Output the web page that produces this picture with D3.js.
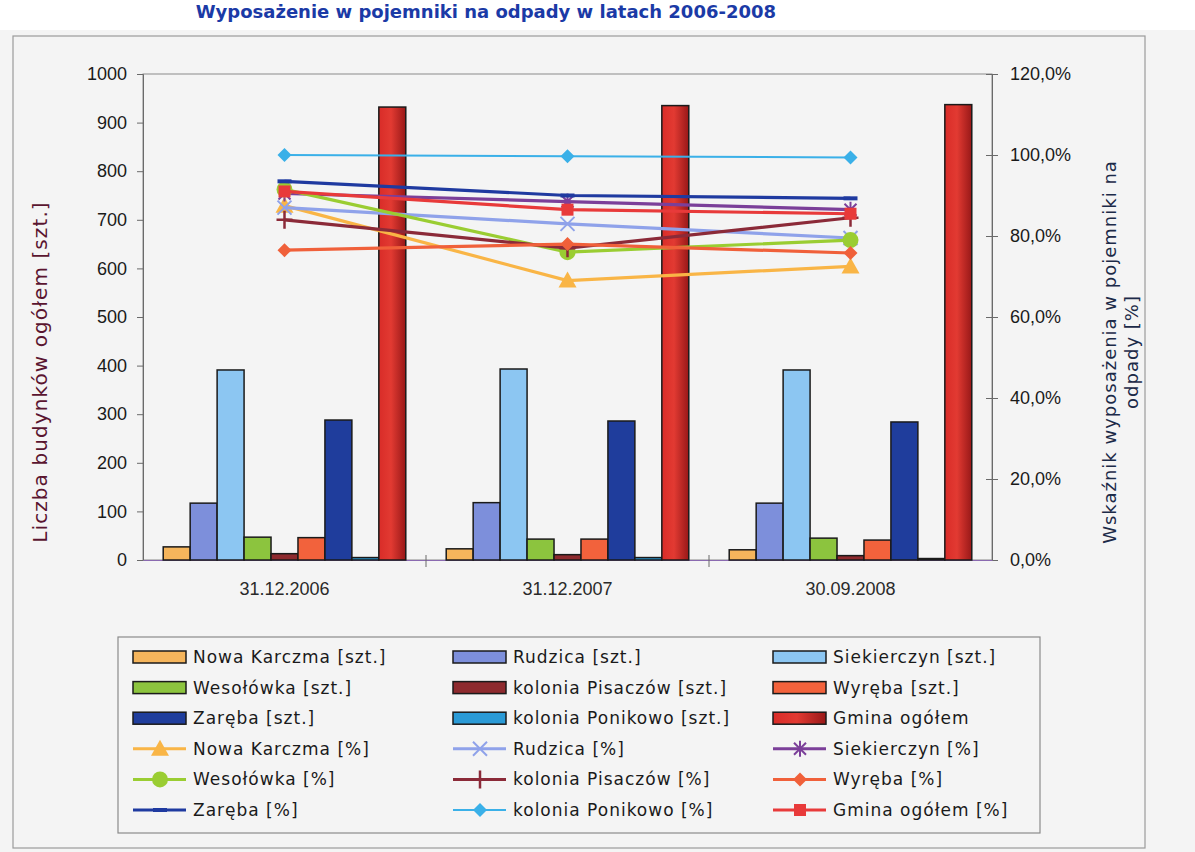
<!DOCTYPE html>
<html lang="pl">
<head>
  <meta charset="UTF-8" />
  <title>Wyposażenie w pojemniki na odpady w latach 2006-2008</title>
  <style>
    body { margin: 0; background: #f4f4f4; }
    svg { display: block; font-family: "DejaVu Sans", Verdana, sans-serif; }
  </style>
</head>
<body>
  <svg id="chart"></svg>

  <script src="https://d3js.org/d3.v7.min.js"></script>
  <script>
    // categories and tick labels
    const categories = ["31.12.2006", "31.12.2007", "30.09.2008"];
    const leftTicks = [0, 100, 200, 300, 400, 500, 600, 700, 800, 900, 1000];
    const rightTicks = [0, 20, 40, 60, 80, 100, 120];

    // bar series (number of buildings)
    const barNames = ["Nowa Karczma [szt.]", "Rudzica [szt.]", "Siekierczyn [szt.]",
      "Wesołówka [szt.]", "kolonia Pisaczów [szt.]", "Wyręba [szt.]",
      "Zaręba [szt.]", "kolonia Ponikowo [szt.]", "Gmina ogółem"];
    const nowaKarczmaSzt = [27, 23, 21];
    const rudzicaSzt = [117, 118, 117];
    const siekierczynSzt = [391, 393, 391];
    const wesolowkaSzt = [47, 43, 45];
    const pisaczowSzt = [13, 11, 9];
    const wyrebaSzt = [46, 43, 41];
    const zarebaSzt = [288, 286, 284];
    const ponikowoSzt = [5, 5, 3];
    const gminaSzt = [932, 935, 937];

    // line series (% equipped)
    const lineNames = ["Nowa Karczma [%]", "Rudzica [%]", "Siekierczyn [%]",
      "Wesołówka [%]", "kolonia Pisaczów [%]", "Wyręba [%]",
      "Zaręba [%]", "kolonia Ponikowo [%]", "Gmina ogółem [%]"];
    const nowaKarczmaPct = [87.5, 69, 72.5];
    const rudzicaPct = [87, 83, 79.5];
    const siekierczynPct = [90.5, 88.5, 86.5];
    const wesolowkaPct = [91.5, 76, 79];
    const pisaczowPct = [84, 77, 84.5];
    const wyrebaPct = [76.5, 78, 75.8];
    const zarebaPct = [93.5, 90, 89.3];
    const ponikowoPct = [100, 99.7, 99.4];
    const gminaPct = [91, 86.5, 85.5];

    const barValues = [nowaKarczmaSzt, rudzicaSzt, siekierczynSzt, wesolowkaSzt,
      pisaczowSzt, wyrebaSzt, zarebaSzt, ponikowoSzt, gminaSzt];
    const lineValues = [nowaKarczmaPct, rudzicaPct, siekierczynPct, wesolowkaPct,
      pisaczowPct, wyrebaPct, zarebaPct, ponikowoPct, gminaPct];

    const barColors = ["#f5b55c", "#7d8fdb", "#8cc6f2", "#8cc43e", "#8e2a2e",
      "#f2623c", "#1f3d9c", "#2a9ad6", "url(#gminaGrad)"];
    const lineColors = ["#f9b546", "#8fa2ea", "#7b3f99", "#9acd32", "#8b2a38",
      "#f0603a", "#1f3aa0", "#3ab0e8", "#e83a3a"];
    const markers = ["triangle", "cross", "star", "circle", "plus",
      "diamond", "dash", "diamond", "square"];

    const W = 1195, H = 852;
    const plot = { left: 143, right: 992, top: 74, bottom: 560 };

    const svg = d3.select("#chart").attr("width", W).attr("height", H);

    const defs = svg.append("defs");
    const grad = defs.append("linearGradient").attr("id", "gminaGrad")
      .attr("x1", "0%").attr("x2", "100%").attr("y1", "0%").attr("y2", "0%");
    grad.append("stop").attr("offset", "0%").attr("stop-color", "#d92c28");
    grad.append("stop").attr("offset", "45%").attr("stop-color", "#e23a32");
    grad.append("stop").attr("offset", "100%").attr("stop-color", "#981818");

    // title strip at the top of the scan
    svg.append("rect").attr("x", 0).attr("y", 0).attr("width", W).attr("height", 30).attr("fill", "#ffffff");
    svg.append("text")
      .attr("x", 776).attr("y", 18)
      .attr("text-anchor", "end")
      .attr("font-weight", "bold")
      .attr("font-size", 18)
      .attr("fill", "#1b3aa6")
      .text("Wyposażenie w pojemniki na odpady w latach 2006-2008");

    // outer frame
    svg.append("rect")
      .attr("x", 13).attr("y", 36).attr("width", 1132).attr("height", 812)
      .attr("fill", "#f4f4f4").attr("stroke", "#9a9a9a").attr("stroke-width", 1.2);

    const x0 = d3.scaleBand().domain(categories).range([plot.left, plot.right]).padding(0);
    const x1 = d3.scaleBand().domain(barNames).range([0, x0.bandwidth()])
      .paddingInner(0).paddingOuter(0.75);
    const yL = d3.scaleLinear().domain([0, 1000]).range([plot.bottom, plot.top]);
    const yR = d3.scaleLinear().domain([0, 120]).range([plot.bottom, plot.top]);

    // plot area border
    svg.append("rect")
      .attr("x", plot.left).attr("y", plot.top)
      .attr("width", plot.right - plot.left).attr("height", plot.bottom - plot.top)
      .attr("fill", "none").attr("stroke", "#8a8a8a").attr("stroke-width", 1);

    // left axis
    const axL = svg.append("g")
      .attr("transform", `translate(${plot.left},0)`)
      .call(d3.axisLeft(yL).tickValues(leftTicks).tickSize(6).tickPadding(10).tickFormat(d3.format("d")));
    axL.select(".domain").attr("stroke", "#6a6a6a");
    axL.selectAll(".tick line").attr("stroke", "#6a6a6a");
    axL.selectAll("text").attr("font-size", 18).attr("fill", "#1a1a1a");

    // right axis
    const axR = svg.append("g")
      .attr("transform", `translate(${plot.right},0)`)
      .call(d3.axisRight(yR).tickValues(rightTicks).tickSize(6).tickPadding(12)
        .tickFormat(d => d3.format(".1f")(d).replace(".", ",") + "%"));
    axR.select(".domain").attr("stroke", "#6a6a6a");
    axR.selectAll(".tick line").attr("x1", -6).attr("stroke", "#6a6a6a");
    axR.selectAll("text").attr("font-size", 18).attr("fill", "#1a1a1a");

    // bottom axis (ticks between categories)
    const axB = svg.append("g")
      .attr("transform", `translate(0,${plot.bottom})`)
      .call(d3.axisBottom(x0).tickSize(0).tickPadding(22));
    axB.select(".domain").attr("stroke", "#8a6ab0");
    axB.selectAll("text").attr("font-size", 18).attr("fill", "#2a2a2a");
    axB.selectAll(".sep")
      .data(categories.slice(1))
      .join("line")
      .attr("class", "sep")
      .attr("x1", d => x0(d)).attr("x2", d => x0(d))
      .attr("y1", -5).attr("y2", 7)
      .attr("stroke", "#6a6a6a");

    // axis titles
    svg.append("text")
      .attr("transform", "translate(47,372) rotate(-90)")
      .attr("text-anchor", "middle")
      .attr("font-size", 20)
      .attr("letter-spacing", 1.1)
      .attr("fill", "#5a1530")
      .text("Liczba budynków ogółem [szt.]");
    const rt = svg.append("text")
      .attr("transform", "translate(1116,352) rotate(-90)")
      .attr("text-anchor", "middle")
      .attr("font-size", 18)
      .attr("letter-spacing", 1)
      .attr("fill", "#1c2a48");
    rt.append("tspan").attr("x", 0).attr("dy", 0).text("Wskaźnik wyposażenia w pojemniki na");
    rt.append("tspan").attr("x", 0).attr("dy", 22).text("odpady [%]");

    // bars
    barNames.forEach((name, i) => {
      svg.append("g").selectAll("rect")
        .data(categories.map((c, j) => ({ c, v: barValues[i][j] })))
        .join("rect")
        .attr("x", d => x0(d.c) + x1(name))
        .attr("y", d => yL(d.v))
        .attr("width", x1.bandwidth())
        .attr("height", d => yL(0) - yL(d.v))
        .attr("fill", barColors[i])
        .attr("stroke", "#1a1a1a")
        .attr("stroke-width", 1.5);
    });

    function drawMarker(g, type, color, x, y) {
      const m = g.append("g").attr("transform", `translate(${x},${y})`);
      if (type === "triangle") {
        m.append("path").attr("d", "M0,-9L9,7L-9,7Z").attr("fill", color);
      } else if (type === "cross") {
        m.append("path").attr("d", "M-7,-7L7,7M-7,7L7,-7").attr("stroke", color).attr("stroke-width", 2).attr("fill", "none");
      } else if (type === "star") {
        m.append("path").attr("d", "M-6,-6L6,6M-6,6L6,-6M0,-8L0,8").attr("stroke", color).attr("stroke-width", 2).attr("fill", "none");
      } else if (type === "circle") {
        m.append("circle").attr("r", 8).attr("fill", color);
      } else if (type === "plus") {
        m.append("path").attr("d", "M0,-9L0,9M-8,0L8,0").attr("stroke", color).attr("stroke-width", 2.5).attr("fill", "none");
      } else if (type === "diamond") {
        m.append("path").attr("d", "M0,-7L7,0L0,7L-7,0Z").attr("fill", color);
      } else if (type === "dash") {
        m.append("path").attr("d", "M-7,0L7,0").attr("stroke", color).attr("stroke-width", 4);
      } else if (type === "square") {
        m.append("rect").attr("x", -6).attr("y", -6).attr("width", 12).attr("height", 12).attr("fill", color);
      }
    }

    // lines
    const cx = c => x0(c) + x0.bandwidth() / 2;
    const line = d3.line().x(d => cx(d.c)).y(d => yR(d.v));
    lineNames.forEach((name, i) => {
      const pts = categories.map((c, j) => ({ c, v: lineValues[i][j] }));
      const g = svg.append("g");
      g.append("path")
        .datum(pts)
        .attr("d", line)
        .attr("fill", "none")
        .attr("stroke", lineColors[i])
        .attr("stroke-width", i === 7 ? 2 : 3.2);
      pts.forEach(p => drawMarker(g, markers[i], lineColors[i], cx(p.c), yR(p.v)));
    });

    // legend
    const lg = svg.append("g");
    lg.append("rect")
      .attr("x", 118).attr("y", 637).attr("width", 922).attr("height", 196)
      .attr("fill", "#f4f4f4").attr("stroke", "#8a8a8a").attr("stroke-width", 1.2);
    const colX = [133, 453, 773];
    const rowY = d3.range(6).map(r => 657 + r * 30.6);
    const legendItems = barNames.map((n, i) => ({ n, i, kind: "bar" }))
      .concat(lineNames.map((n, i) => ({ n, i, kind: "line" })));
    legendItems.forEach((it, k) => {
      const x = colX[k % 3], y = rowY[Math.floor(k / 3)];
      const g = lg.append("g");
      if (it.kind === "bar") {
        g.append("rect").attr("x", x).attr("y", y - 6).attr("width", 53).attr("height", 12)
          .attr("fill", barColors[it.i]).attr("stroke", "#1a1a1a").attr("stroke-width", 1.5);
      } else {
        g.append("line").attr("x1", x).attr("x2", x + 53).attr("y1", y).attr("y2", y)
          .attr("stroke", lineColors[it.i]).attr("stroke-width", it.i === 7 ? 2 : 3);
        drawMarker(g, markers[it.i], lineColors[it.i], x + 27, y);
      }
      g.append("text")
        .attr("x", x + 60).attr("y", y + 6)
        .attr("font-size", 17)
        .attr("letter-spacing", 1)
        .attr("fill", "#1a1a1a")
        .text(it.n);
    });
  </script>
</body>
</html>
